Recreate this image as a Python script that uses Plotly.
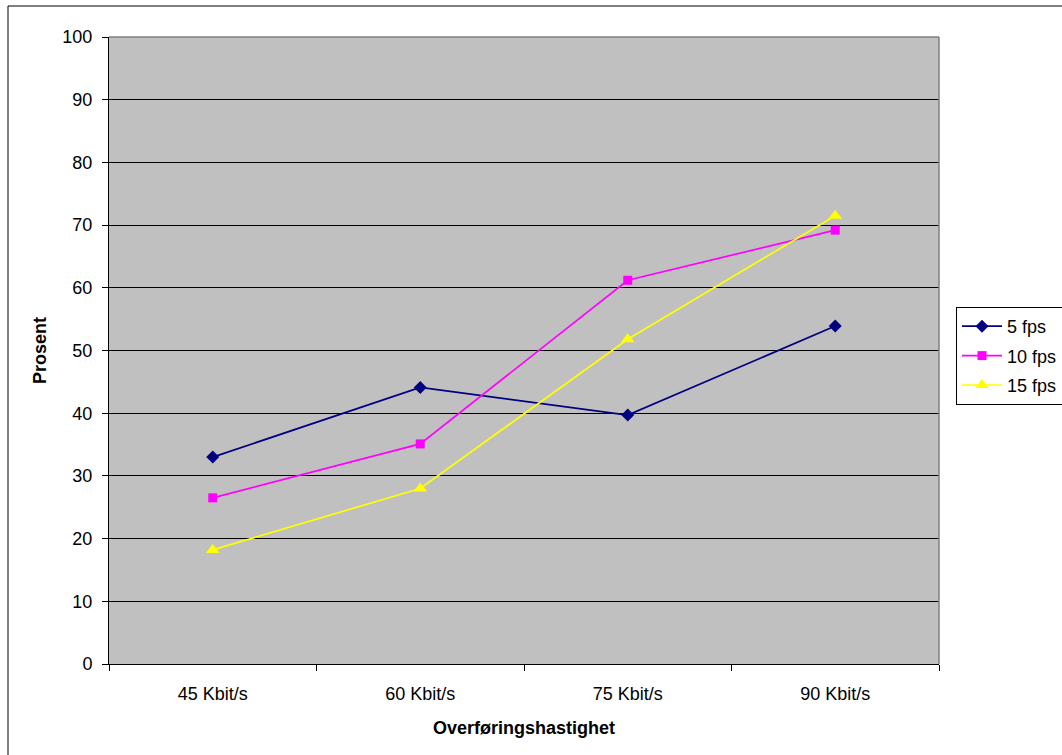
import plotly.graph_objects as go

# Transfer rates (categories) and measured share in percent per frame rate
rates = ["45 Kbit/s", "60 Kbit/s", "75 Kbit/s", "90 Kbit/s"]
fps5 = [33.0, 44.1, 39.7, 53.9]
fps10 = [26.5, 35.1, 61.2, 69.2]
fps15 = [18.2, 28.0, 51.8, 71.5]

series_names = ["5 fps", "10 fps", "15 fps"]
series_values = [fps5, fps10, fps15]
series_colors = ["#000080", "#FF00FF", "#FFFF00"]
series_symbols = ["diamond", "square", "triangle-up"]
series_sizes = [10, 9, 12]

y_ticks = list(range(0, 101, 10))

FONT = "Liberation Sans, Arial, sans-serif"
FS = 18

fig = go.Figure()
for name, vals, col, sym, sz in zip(series_names, series_values, series_colors,
                                     series_symbols, series_sizes):
    fig.add_trace(go.Scatter(
        x=rates, y=vals, name=name, mode="lines+markers",
        legendgroup=name,
        line=dict(color=col, width=1.7),
        marker=dict(symbol=sym, size=sz, color=col, line=dict(width=0)),
    ))

fig.update_layout(
    width=1062, height=755,
    margin=dict(l=109, r=123, t=37, b=91, autoexpand=False),
    paper_bgcolor="white",
    plot_bgcolor="#C0C0C0",
    font=dict(family=FONT, size=FS, color="black"),
    showlegend=True,
    legend=dict(
        x=(956 - 109) / 830, xanchor="left",
        y=(664 - 307) / 627, yanchor="top",
        bgcolor="white", bordercolor="black", borderwidth=1,
        font=dict(family=FONT, size=FS, color="black"),
        traceorder="grouped", tracegroupgap=3,
        itemwidth=40,
    ),
)

fig.update_xaxes(
    type="category",
    range=[-0.5, len(rates) - 0.5],
    tickson="boundaries",
    ticks="outside", ticklen=6, tickcolor="black", tickwidth=1,
    showline=True, linecolor="black", linewidth=1,
    showgrid=False, zeroline=False,
    ticklabelstandoff=13,
    title=dict(text="<b>Overføringshastighet</b>", standoff=18,
               font=dict(family=FONT, size=FS, color="black")),
)

fig.update_yaxes(
    range=[0, 100],
    tickvals=y_ticks,
    ticks="outside", ticklen=6, tickcolor="black", tickwidth=1,
    showline=True, linecolor="black", linewidth=1,
    showgrid=True, gridcolor="black", gridwidth=1,
    zeroline=False,
    ticklabelstandoff=6,
    title=dict(text="<b>Prosent</b>", standoff=11,
               font=dict(family=FONT, size=FS, color="black")),
)

# grey frame on the top and right sides of the plotting area
fig.add_shape(type="line", xref="paper", yref="paper", x0=0, x1=1, y0=1, y1=1,
              line=dict(color="#808080", width=1.5), layer="above")
fig.add_shape(type="line", xref="paper", yref="paper", x0=1, x1=1, y0=0, y1=1,
              line=dict(color="#808080", width=1.5), layer="above")

# outer chart border
fig.add_shape(type="rect", xref="paper", yref="paper",
              x0=(8 - 109) / 830, x1=(1070 - 109) / 830,
              y0=(664 - 770) / 627, y1=(664 - 6) / 627,
              line=dict(color="black", width=1), fillcolor="rgba(0,0,0,0)",
              layer="above")

fig.write_html("out.html")
